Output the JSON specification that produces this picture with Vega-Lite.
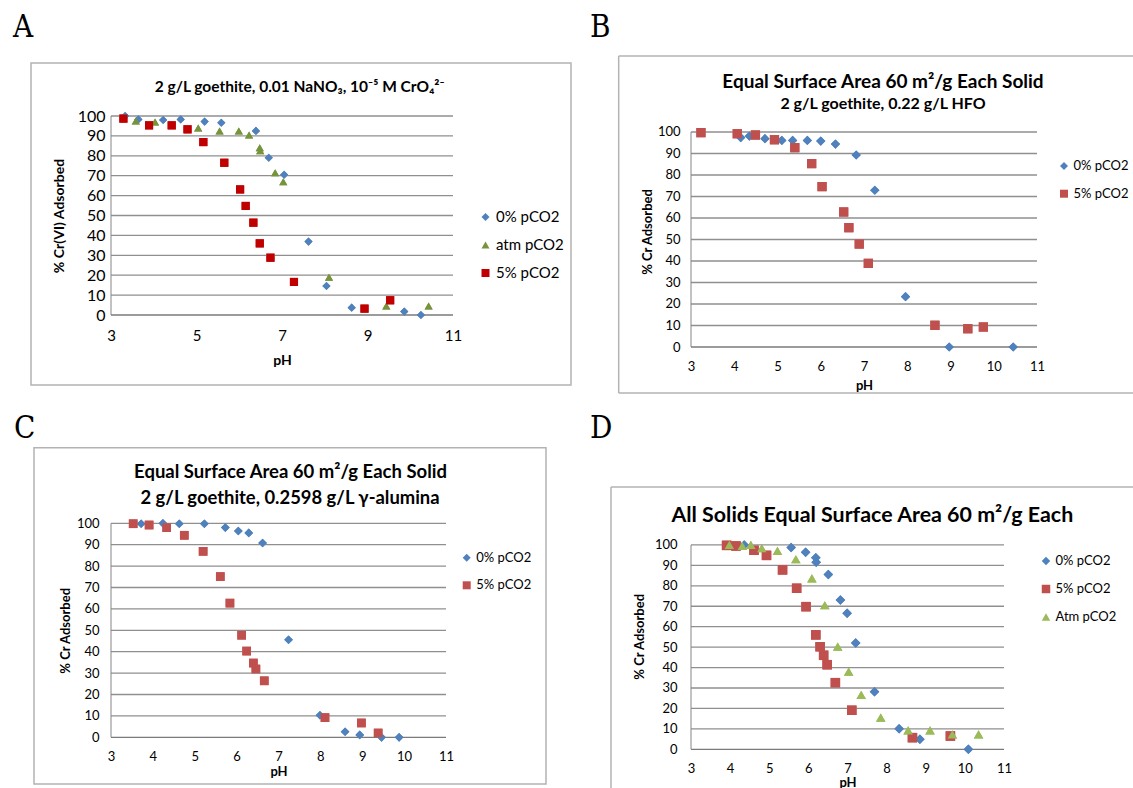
{
  "$schema": "https://vega.github.io/schema/vega-lite/v6.json",
  "background": "white",
  "padding": {"left": 12, "top": 11, "right": 0, "bottom": 0},
  "config": {
    "view": {"stroke": null},
    "axis": {"labelFont": "Lato", "titleFont": "Lato", "labelColor": "#000000", "titleColor": "#000000", "titleFontWeight": "bold"},
    "legend": {"labelFont": "Lato", "labelColor": "#000000", "symbolStrokeWidth": 0, "labelOffset": 3}
  },
  "datasets": {
    "gridlevels": [
      {"level": 10}, {"level": 20}, {"level": 30}, {"level": 40}, {"level": 50},
      {"level": 60}, {"level": 70}, {"level": 80}, {"level": 90}, {"level": 100}
    ],
    "a": [
      {"pH": 3.33, "pct": 100, "series": "0% pCO2"},
      {"pH": 3.64, "pct": 98.3, "series": "0% pCO2"},
      {"pH": 4.22, "pct": 98, "series": "0% pCO2"},
      {"pH": 4.63, "pct": 98.3, "series": "0% pCO2"},
      {"pH": 5.19, "pct": 97.2, "series": "0% pCO2"},
      {"pH": 5.58, "pct": 96.6, "series": "0% pCO2"},
      {"pH": 6.39, "pct": 92.5, "series": "0% pCO2"},
      {"pH": 6.69, "pct": 79, "series": "0% pCO2"},
      {"pH": 7.05, "pct": 70.5, "series": "0% pCO2"},
      {"pH": 7.62, "pct": 36.9, "series": "0% pCO2"},
      {"pH": 8.04, "pct": 14.6, "series": "0% pCO2"},
      {"pH": 8.63, "pct": 3.7, "series": "0% pCO2"},
      {"pH": 9.86, "pct": 1.7, "series": "0% pCO2"},
      {"pH": 10.25, "pct": 0, "series": "0% pCO2"},
      {"pH": 3.58, "pct": 97.5, "series": "atm pCO2"},
      {"pH": 4.03, "pct": 97, "series": "atm pCO2"},
      {"pH": 5.04, "pct": 94, "series": "atm pCO2"},
      {"pH": 5.54, "pct": 92.5, "series": "atm pCO2"},
      {"pH": 5.99, "pct": 92.5, "series": "atm pCO2"},
      {"pH": 6.23, "pct": 90.5, "series": "atm pCO2"},
      {"pH": 6.48, "pct": 84, "series": "atm pCO2"},
      {"pH": 6.49, "pct": 82.5, "series": "atm pCO2"},
      {"pH": 6.84, "pct": 71.5, "series": "atm pCO2"},
      {"pH": 7.03, "pct": 67, "series": "atm pCO2"},
      {"pH": 8.1, "pct": 19, "series": "atm pCO2"},
      {"pH": 9.44, "pct": 4.5, "series": "atm pCO2"},
      {"pH": 10.43, "pct": 4.5, "series": "atm pCO2"},
      {"pH": 3.29, "pct": 98.7, "series": "5% pCO2"},
      {"pH": 3.89, "pct": 95.3, "series": "5% pCO2"},
      {"pH": 4.42, "pct": 95.3, "series": "5% pCO2"},
      {"pH": 4.79, "pct": 93.3, "series": "5% pCO2"},
      {"pH": 5.16, "pct": 86.9, "series": "5% pCO2"},
      {"pH": 5.65, "pct": 76.5, "series": "5% pCO2"},
      {"pH": 6.02, "pct": 63.1, "series": "5% pCO2"},
      {"pH": 6.15, "pct": 54.8, "series": "5% pCO2"},
      {"pH": 6.33, "pct": 46.4, "series": "5% pCO2"},
      {"pH": 6.48, "pct": 36, "series": "5% pCO2"},
      {"pH": 6.73, "pct": 28.8, "series": "5% pCO2"},
      {"pH": 7.28, "pct": 16.6, "series": "5% pCO2"},
      {"pH": 8.93, "pct": 3.2, "series": "5% pCO2"},
      {"pH": 9.53, "pct": 7.4, "series": "5% pCO2"}
    ],
    "b": [
      {"pH": 4.15, "pct": 97.4, "series": "0% pCO2"},
      {"pH": 4.35, "pct": 98.1, "series": "0% pCO2"},
      {"pH": 4.71, "pct": 96.9, "series": "0% pCO2"},
      {"pH": 5.1, "pct": 96.1, "series": "0% pCO2"},
      {"pH": 5.35, "pct": 96.1, "series": "0% pCO2"},
      {"pH": 5.69, "pct": 96.1, "series": "0% pCO2"},
      {"pH": 6.0, "pct": 95.8, "series": "0% pCO2"},
      {"pH": 6.34, "pct": 94.4, "series": "0% pCO2"},
      {"pH": 6.82, "pct": 89.3, "series": "0% pCO2"},
      {"pH": 7.25, "pct": 72.9, "series": "0% pCO2"},
      {"pH": 7.96, "pct": 23.4, "series": "0% pCO2"},
      {"pH": 8.97, "pct": 0, "series": "0% pCO2"},
      {"pH": 10.45, "pct": 0, "series": "0% pCO2"},
      {"pH": 3.23, "pct": 99.7, "series": "5% pCO2"},
      {"pH": 4.07, "pct": 99.2, "series": "5% pCO2"},
      {"pH": 4.49, "pct": 98.6, "series": "5% pCO2"},
      {"pH": 4.93, "pct": 96.4, "series": "5% pCO2"},
      {"pH": 5.4, "pct": 92.7, "series": "5% pCO2"},
      {"pH": 5.79, "pct": 85.3, "series": "5% pCO2"},
      {"pH": 6.03, "pct": 74.6, "series": "5% pCO2"},
      {"pH": 6.53, "pct": 62.8, "series": "5% pCO2"},
      {"pH": 6.65, "pct": 55.5, "series": "5% pCO2"},
      {"pH": 6.89, "pct": 47.9, "series": "5% pCO2"},
      {"pH": 7.1, "pct": 38.9, "series": "5% pCO2"},
      {"pH": 8.64, "pct": 10.1, "series": "5% pCO2"},
      {"pH": 9.4, "pct": 8.5, "series": "5% pCO2"},
      {"pH": 9.76, "pct": 9.3, "series": "5% pCO2"}
    ],
    "c": [
      {"pH": 3.72, "pct": 99.8, "series": "0% pCO2"},
      {"pH": 4.24, "pct": 100, "series": "0% pCO2"},
      {"pH": 4.63, "pct": 99.8, "series": "0% pCO2"},
      {"pH": 5.23, "pct": 99.8, "series": "0% pCO2"},
      {"pH": 5.73, "pct": 98, "series": "0% pCO2"},
      {"pH": 6.04, "pct": 96.4, "series": "0% pCO2"},
      {"pH": 6.29, "pct": 95.5, "series": "0% pCO2"},
      {"pH": 6.62, "pct": 90.8, "series": "0% pCO2"},
      {"pH": 7.24, "pct": 45.6, "series": "0% pCO2"},
      {"pH": 7.99, "pct": 10.3, "series": "0% pCO2"},
      {"pH": 8.59, "pct": 2.6, "series": "0% pCO2"},
      {"pH": 8.94, "pct": 1.1, "series": "0% pCO2"},
      {"pH": 9.46, "pct": 0, "series": "0% pCO2"},
      {"pH": 9.88, "pct": 0, "series": "0% pCO2"},
      {"pH": 3.53, "pct": 99.8, "series": "5% pCO2"},
      {"pH": 3.91, "pct": 99.2, "series": "5% pCO2"},
      {"pH": 4.33, "pct": 98, "series": "5% pCO2"},
      {"pH": 4.75, "pct": 94.4, "series": "5% pCO2"},
      {"pH": 5.2, "pct": 86.9, "series": "5% pCO2"},
      {"pH": 5.61, "pct": 75.1, "series": "5% pCO2"},
      {"pH": 5.84, "pct": 62.7, "series": "5% pCO2"},
      {"pH": 6.12, "pct": 47.7, "series": "5% pCO2"},
      {"pH": 6.24, "pct": 40.3, "series": "5% pCO2"},
      {"pH": 6.4, "pct": 34.7, "series": "5% pCO2"},
      {"pH": 6.46, "pct": 31.9, "series": "5% pCO2"},
      {"pH": 6.66, "pct": 26.4, "series": "5% pCO2"},
      {"pH": 8.11, "pct": 9.2, "series": "5% pCO2"},
      {"pH": 8.98, "pct": 6.7, "series": "5% pCO2"},
      {"pH": 9.38, "pct": 2, "series": "5% pCO2"}
    ],
    "d": [
      {"pH": 4.36, "pct": 100, "series": "0% pCO2"},
      {"pH": 5.56, "pct": 98.7, "series": "0% pCO2"},
      {"pH": 5.93, "pct": 96.4, "series": "0% pCO2"},
      {"pH": 6.19, "pct": 93.8, "series": "0% pCO2"},
      {"pH": 6.2, "pct": 91.5, "series": "0% pCO2"},
      {"pH": 6.51, "pct": 85.6, "series": "0% pCO2"},
      {"pH": 6.82, "pct": 73.1, "series": "0% pCO2"},
      {"pH": 6.99, "pct": 66.6, "series": "0% pCO2"},
      {"pH": 7.21, "pct": 52, "series": "0% pCO2"},
      {"pH": 7.69, "pct": 28.2, "series": "0% pCO2"},
      {"pH": 8.32, "pct": 10.1, "series": "0% pCO2"},
      {"pH": 8.85, "pct": 4.9, "series": "0% pCO2"},
      {"pH": 10.09, "pct": 0, "series": "0% pCO2"},
      {"pH": 3.91, "pct": 99.8, "series": "5% pCO2"},
      {"pH": 4.15, "pct": 99.5, "series": "5% pCO2"},
      {"pH": 4.61, "pct": 97.4, "series": "5% pCO2"},
      {"pH": 4.93, "pct": 94.9, "series": "5% pCO2"},
      {"pH": 5.34, "pct": 87.8, "series": "5% pCO2"},
      {"pH": 5.7, "pct": 78.8, "series": "5% pCO2"},
      {"pH": 5.94, "pct": 69.8, "series": "5% pCO2"},
      {"pH": 6.19, "pct": 56, "series": "5% pCO2"},
      {"pH": 6.3, "pct": 50.2, "series": "5% pCO2"},
      {"pH": 6.39, "pct": 46, "series": "5% pCO2"},
      {"pH": 6.48, "pct": 41.4, "series": "5% pCO2"},
      {"pH": 6.69, "pct": 32.6, "series": "5% pCO2"},
      {"pH": 7.11, "pct": 19.1, "series": "5% pCO2"},
      {"pH": 8.66, "pct": 5.7, "series": "5% pCO2"},
      {"pH": 9.63, "pct": 6.5, "series": "5% pCO2"},
      {"pH": 3.98, "pct": 100, "series": "Atm pCO2"},
      {"pH": 4.31, "pct": 99.5, "series": "Atm pCO2"},
      {"pH": 4.53, "pct": 100, "series": "Atm pCO2"},
      {"pH": 4.81, "pct": 98.4, "series": "Atm pCO2"},
      {"pH": 5.21, "pct": 97.1, "series": "Atm pCO2"},
      {"pH": 5.68, "pct": 93, "series": "Atm pCO2"},
      {"pH": 6.09, "pct": 83.7, "series": "Atm pCO2"},
      {"pH": 6.42, "pct": 70.5, "series": "Atm pCO2"},
      {"pH": 6.75, "pct": 50.2, "series": "Atm pCO2"},
      {"pH": 7.03, "pct": 38, "series": "Atm pCO2"},
      {"pH": 7.35, "pct": 26.6, "series": "Atm pCO2"},
      {"pH": 7.85, "pct": 15.5, "series": "Atm pCO2"},
      {"pH": 8.55, "pct": 9.3, "series": "Atm pCO2"},
      {"pH": 9.11, "pct": 9.3, "series": "Atm pCO2"},
      {"pH": 9.68, "pct": 7.3, "series": "Atm pCO2"},
      {"pH": 10.35, "pct": 7.3, "series": "Atm pCO2"}
    ]
  },
  "columns": 2,
  "spacing": {"row": 18.3, "column": 18},
  "align": "each",
  "bounds": "full",
  "resolve": {
    "scale": {"x": "independent", "y": "independent", "color": "independent", "shape": "independent"},
    "axis": {"x": "independent", "y": "independent"},
    "legend": {"color": "independent", "shape": "independent"}
  },
  "concat": [
    {
      "width": 342,
      "height": 199,
      "resolve": {"axis": {"x": "independent", "y": "independent"}},
      "layer": [
        {
          "data": {"name": "a"},
          "mark": {"type": "point", "filled": true, "opacity": 1, "size": 66},
          "encoding": {
            "x": {"field": "pH", "type": "quantitative", "scale": {"domain": [3, 11], "nice": false, "zero": false},
              "axis": {"orient": "bottom", "values": [3, 5, 7, 9, 11], "title": "pH", "grid": false, "domain": false, "ticks": false, "tickSize": 0, "labelFlush": false, "labelOverlap": false, "labelFontSize": 15, "labelPadding": 13.5, "titleFontSize": 14, "titlePadding": 9.5}},
            "y": {"field": "pct", "type": "quantitative", "scale": {"domain": [0, 100], "nice": false, "zero": false},
              "axis": {"orient": "left", "values": [0, 10, 20, 30, 40, 50, 60, 70, 80, 90, 100], "title": "% Cr(VI) Adsorbed", "grid": false, "domain": false, "ticks": false, "tickSize": 0, "labelOverlap": false, "labelFontSize": 16, "labelPadding": 6, "titleFontSize": 14, "titlePadding": 11}},
            "color": {"field": "series", "type": "nominal",
              "scale": {"domain": ["0% pCO2", "atm pCO2", "5% pCO2"], "range": ["#4F81BD", "#77933C", "#C00000"]},
              "legend": {"orient": "none", "legendX": 367, "legendY": 93.5, "direction": "vertical", "title": null, "labelFontSize": 15, "rowPadding": 12, "symbolSize": 64}},
            "shape": {"field": "series", "type": "nominal",
              "scale": {"domain": ["0% pCO2", "atm pCO2", "5% pCO2"], "range": ["diamond", "triangle-up", "square"]},
              "legend": {"orient": "none", "legendX": 367, "legendY": 93.5, "direction": "vertical", "title": null, "labelFontSize": 15, "rowPadding": 12, "symbolSize": 64}}
          }
        },
        {
          "data": {"name": "gridlevels"},
          "mark": {"type": "rule", "color": "#8f8f8f", "strokeWidth": 1.3},
          "encoding": {
            "x": {"datum": 3, "type": "quantitative", "axis": null},
            "x2": {"datum": 11},
            "y": {"field": "level", "type": "quantitative", "axis": null}
          }
        },
        {
          "data": {"values": [{}]},
          "mark": {"type": "rule", "color": "#7a7a7a", "strokeWidth": 1.3},
          "encoding": {
            "x": {"datum": 3, "type": "quantitative", "axis": null},
            "x2": {"datum": 11},
            "y": {"datum": 0, "type": "quantitative", "axis": null}
          }
        },
        {
          "data": {"values": [{}]},
          "mark": {"type": "rule", "color": "#868686", "strokeWidth": 1},
          "encoding": {
            "x": {"datum": 3, "type": "quantitative", "axis": null},
            "y": {"datum": 0, "type": "quantitative", "axis": null},
            "y2": {"datum": 100}
          }
        },
        {
          "data": {"values": [{}]},
          "mark": {"type": "rect", "filled": false, "stroke": "#b3b3b3", "strokeWidth": 1.5},
          "encoding": {
            "x": {"datum": 1.1287, "type": "quantitative", "axis": null},
            "x2": {"datum": 13.76},
            "y": {"datum": 126.63, "type": "quantitative", "axis": null},
            "y2": {"datum": -35.18}
          }
        },
        {
          "data": {"values": [{}]},
          "mark": {"type": "text", "text": "A", "font": "DejaVu Serif Condensed, Liberation Serif, serif", "fontSize": 31, "align": "left", "baseline": "alphabetic", "color": "#000000"},
          "encoding": {
            "x": {"datum": 0.7076, "type": "quantitative", "axis": null},
            "y": {"datum": 139.7, "type": "quantitative", "axis": null}
          }
        },
        {
          "data": {"values": [{}]},
          "mark": {"type": "text", "text": "2 g/L goethite, 0.01 NaNO₃, 10⁻⁵ M CrO₄²⁻", "font": "Lato, DejaVu Sans", "fontWeight": "bold", "fontSize": 15.5, "align": "center", "baseline": "alphabetic", "color": "#000000"},
          "encoding": {
            "x": {"datum": 7.414, "type": "quantitative", "axis": null},
            "y": {"datum": 111.91, "type": "quantitative", "axis": null}
          }
        },
        {
          "data": {"name": "a"},
          "mark": {"type": "point", "filled": true, "opacity": 1, "size": 66},
          "encoding": {
            "x": {"field": "pH", "type": "quantitative", "axis": null},
            "y": {"field": "pct", "type": "quantitative", "axis": null},
            "color": {"field": "series", "type": "nominal", "legend": null},
            "shape": {"field": "series", "type": "nominal", "legend": null}
          }
        }
      ]
    },
    {
      "width": 346,
      "height": 231,
      "resolve": {"axis": {"x": "independent", "y": "independent"}},
      "layer": [
        {
          "data": {"name": "b"},
          "mark": {"type": "point", "filled": true, "opacity": 1, "size": 85},
          "encoding": {
            "x": {"field": "pH", "type": "quantitative", "scale": {"domain": [3, 11], "nice": false, "zero": false},
              "axis": {"orient": "bottom", "values": [3, 4, 5, 6, 7, 8, 9, 10, 11], "title": "pH", "grid": false, "domain": false, "ticks": false, "tickSize": 0, "labelFlush": false, "labelOverlap": false, "labelFontSize": 13, "labelPadding": 13, "titleFontSize": 13, "titlePadding": 6}},
            "y": {"field": "pct", "type": "quantitative", "scale": {"domain": [0, 107.44], "nice": false, "zero": false},
              "axis": {"orient": "left", "values": [0, 10, 20, 30, 40, 50, 60, 70, 80, 90, 100], "title": "% Cr Adsorbed", "grid": false, "domain": false, "ticks": false, "tickSize": 0, "labelOverlap": false, "labelFontSize": 13, "labelPadding": 11, "titleFontSize": 13, "titlePadding": 3}},
            "color": {"field": "series", "type": "nominal",
              "scale": {"domain": ["0% pCO2", "5% pCO2"], "range": ["#4F81BD", "#C0504D"]},
              "legend": {"orient": "none", "legendX": 366.5, "legendY": 43.5, "direction": "vertical", "title": null, "labelFontSize": 13, "rowPadding": 13.7, "symbolSize": 64}},
            "shape": {"field": "series", "type": "nominal",
              "scale": {"domain": ["0% pCO2", "5% pCO2"], "range": ["diamond", "square"]},
              "legend": {"orient": "none", "legendX": 366.5, "legendY": 43.5, "direction": "vertical", "title": null, "labelFontSize": 13, "rowPadding": 13.7, "symbolSize": 64}}
          }
        },
        {
          "data": {"name": "gridlevels"},
          "mark": {"type": "rule", "color": "#8f8f8f", "strokeWidth": 1.3},
          "encoding": {
            "x": {"datum": 3, "type": "quantitative", "axis": null},
            "x2": {"datum": 11},
            "y": {"field": "level", "type": "quantitative", "axis": null}
          }
        },
        {
          "data": {"values": [{}]},
          "mark": {"type": "rule", "color": "#7a7a7a", "strokeWidth": 1.3},
          "encoding": {
            "x": {"datum": 3, "type": "quantitative", "axis": null},
            "x2": {"datum": 11},
            "y": {"datum": 0, "type": "quantitative", "axis": null}
          }
        },
        {
          "data": {"values": [{}]},
          "mark": {"type": "rule", "color": "#868686", "strokeWidth": 1},
          "encoding": {
            "x": {"datum": 3, "type": "quantitative", "axis": null},
            "y": {"datum": 0, "type": "quantitative", "axis": null},
            "y2": {"datum": 100}
          }
        },
        {
          "data": {"values": [{}]},
          "mark": {"type": "rule", "color": "#b3b3b3", "strokeWidth": 1.5},
          "encoding": {
            "x": {"datum": 1.328, "type": "quantitative", "axis": null},
            "x2": {"datum": 13.22},
            "y": {"datum": 135.35, "type": "quantitative", "axis": null}
          }
        },
        {
          "data": {"values": [{}]},
          "mark": {"type": "rule", "color": "#b3b3b3", "strokeWidth": 1.5},
          "encoding": {
            "x": {"datum": 1.328, "type": "quantitative", "axis": null},
            "y": {"datum": 135.35, "type": "quantitative", "axis": null},
            "y2": {"datum": -21.4}
          }
        },
        {
          "data": {"values": [{}]},
          "mark": {"type": "rule", "color": "#b3b3b3", "strokeWidth": 1.5},
          "encoding": {
            "x": {"datum": 1.328, "type": "quantitative", "axis": null},
            "x2": {"datum": 13.22},
            "y": {"datum": -21.4, "type": "quantitative", "axis": null}
          }
        },
        {
          "data": {"values": [{}]},
          "mark": {"type": "text", "text": "B", "font": "DejaVu Serif Condensed, Liberation Serif, serif", "fontSize": 31, "align": "left", "baseline": "alphabetic", "color": "#000000"},
          "encoding": {
            "x": {"datum": 0.666, "type": "quantitative", "axis": null},
            "y": {"datum": 144.18, "type": "quantitative", "axis": null}
          }
        },
        {
          "data": {"values": [{}]},
          "mark": {"type": "text", "text": "Equal Surface Area 60 m²/g Each Solid", "font": "Lato, DejaVu Sans", "fontWeight": "bold", "fontSize": 19, "align": "center", "baseline": "alphabetic", "color": "#000000"},
          "encoding": {
            "x": {"datum": 7.439, "type": "quantitative", "axis": null},
            "y": {"datum": 120.6, "type": "quantitative", "axis": null}
          }
        },
        {
          "data": {"values": [{}]},
          "mark": {"type": "text", "text": "2 g/L goethite, 0.22 g/L HFO", "font": "Lato, DejaVu Sans", "fontWeight": "bold", "fontSize": 16, "align": "center", "baseline": "alphabetic", "color": "#000000"},
          "encoding": {
            "x": {"datum": 7.439, "type": "quantitative", "axis": null},
            "y": {"datum": 110.56, "type": "quantitative", "axis": null}
          }
        },
        {
          "data": {"name": "b"},
          "mark": {"type": "point", "filled": true, "opacity": 1, "size": 85},
          "encoding": {
            "x": {"field": "pH", "type": "quantitative", "axis": null},
            "y": {"field": "pct", "type": "quantitative", "axis": null},
            "color": {"field": "series", "type": "nominal", "legend": null},
            "shape": {"field": "series", "type": "nominal", "legend": null}
          }
        }
      ]
    },
    {
      "width": 335,
      "height": 214,
      "resolve": {"axis": {"x": "independent", "y": "independent"}},
      "layer": [
        {
          "data": {"name": "c"},
          "mark": {"type": "point", "filled": true, "opacity": 1, "size": 75},
          "encoding": {
            "x": {"field": "pH", "type": "quantitative", "scale": {"domain": [3, 11], "nice": false, "zero": false},
              "axis": {"orient": "bottom", "values": [3, 4, 5, 6, 7, 8, 9, 10, 11], "title": "pH", "grid": false, "domain": false, "ticks": false, "tickSize": 0, "labelFlush": false, "labelOverlap": false, "labelFontSize": 13, "labelPadding": 13, "titleFontSize": 13, "titlePadding": 2}},
            "y": {"field": "pct", "type": "quantitative", "scale": {"domain": [0, 100], "nice": false, "zero": false},
              "axis": {"orient": "left", "values": [0, 10, 20, 30, 40, 50, 60, 70, 80, 90, 100], "title": "% Cr Adsorbed", "grid": false, "domain": false, "ticks": false, "tickSize": 0, "labelOverlap": false, "labelFontSize": 13, "labelPadding": 12, "titleFontSize": 13, "titlePadding": 3.4}},
            "color": {"field": "series", "type": "nominal",
              "scale": {"domain": ["0% pCO2", "5% pCO2"], "range": ["#4F81BD", "#C0504D"]},
              "legend": {"orient": "none", "legendX": 349.2, "legendY": 27.9, "direction": "vertical", "title": null, "labelFontSize": 13, "rowPadding": 13.6, "symbolSize": 64}},
            "shape": {"field": "series", "type": "nominal",
              "scale": {"domain": ["0% pCO2", "5% pCO2"], "range": ["diamond", "square"]},
              "legend": {"orient": "none", "legendX": 349.2, "legendY": 27.9, "direction": "vertical", "title": null, "labelFontSize": 13, "rowPadding": 13.6, "symbolSize": 64}}
          }
        },
        {
          "data": {"name": "gridlevels"},
          "mark": {"type": "rule", "color": "#8f8f8f", "strokeWidth": 1.3},
          "encoding": {
            "x": {"datum": 3, "type": "quantitative", "axis": null},
            "x2": {"datum": 11},
            "y": {"field": "level", "type": "quantitative", "axis": null}
          }
        },
        {
          "data": {"values": [{}]},
          "mark": {"type": "rule", "color": "#7a7a7a", "strokeWidth": 1.3},
          "encoding": {
            "x": {"datum": 3, "type": "quantitative", "axis": null},
            "x2": {"datum": 11},
            "y": {"datum": 0, "type": "quantitative", "axis": null}
          }
        },
        {
          "data": {"values": [{}]},
          "mark": {"type": "rule", "color": "#868686", "strokeWidth": 1},
          "encoding": {
            "x": {"datum": 3, "type": "quantitative", "axis": null},
            "y": {"datum": 0, "type": "quantitative", "axis": null},
            "y2": {"datum": 100}
          }
        },
        {
          "data": {"values": [{}]},
          "mark": {"type": "rect", "filled": false, "stroke": "#b3b3b3", "strokeWidth": 1.5},
          "encoding": {
            "x": {"datum": 1.161, "type": "quantitative", "axis": null},
            "x2": {"datum": 13.388},
            "y": {"datum": 135.33, "type": "quantitative", "axis": null},
            "y2": {"datum": -21.82}
          }
        },
        {
          "data": {"values": [{}]},
          "mark": {"type": "text", "text": "C", "font": "DejaVu Serif Condensed, Liberation Serif, serif", "fontSize": 31, "align": "left", "baseline": "alphabetic", "color": "#000000"},
          "encoding": {
            "x": {"datum": 0.6836, "type": "quantitative", "axis": null},
            "y": {"datum": 140.09, "type": "quantitative", "axis": null}
          }
        },
        {
          "data": {"values": [{}]},
          "mark": {"type": "text", "text": "Equal Surface Area 60 m²/g Each Solid", "font": "Lato, DejaVu Sans", "fontWeight": "bold", "fontSize": 18.5, "align": "center", "baseline": "alphabetic", "color": "#000000"},
          "encoding": {
            "x": {"datum": 7.287, "type": "quantitative", "axis": null},
            "y": {"datum": 121.03, "type": "quantitative", "axis": null}
          }
        },
        {
          "data": {"values": [{}]},
          "mark": {"type": "text", "text": "2 g/L goethite, 0.2598 g/L  γ-alumina", "font": "Lato, DejaVu Sans", "fontWeight": "bold", "fontSize": 18.4, "align": "center", "baseline": "alphabetic", "color": "#000000"},
          "encoding": {
            "x": {"datum": 7.275, "type": "quantitative", "axis": null},
            "y": {"datum": 108.88, "type": "quantitative", "axis": null}
          }
        },
        {
          "data": {"name": "c"},
          "mark": {"type": "point", "filled": true, "opacity": 1, "size": 75},
          "encoding": {
            "x": {"field": "pH", "type": "quantitative", "axis": null},
            "y": {"field": "pct", "type": "quantitative", "axis": null},
            "color": {"field": "series", "type": "nominal", "legend": null},
            "shape": {"field": "series", "type": "nominal", "legend": null}
          }
        }
      ]
    },
    {
      "width": 313,
      "height": 226,
      "resolve": {"axis": {"x": "independent", "y": "independent"}},
      "layer": [
        {
          "data": {"name": "d"},
          "mark": {"type": "point", "filled": true, "opacity": 1, "size": 90},
          "encoding": {
            "x": {"field": "pH", "type": "quantitative", "scale": {"domain": [3, 11], "nice": false, "zero": false},
              "axis": {"orient": "bottom", "values": [3, 4, 5, 6, 7, 8, 9, 10, 11], "title": "pH", "grid": false, "domain": false, "ticks": false, "tickSize": 0, "labelFlush": false, "labelOverlap": false, "labelFontSize": 13, "labelPadding": 13, "titleFontSize": 13, "titlePadding": 1}},
            "y": {"field": "pct", "type": "quantitative", "scale": {"domain": [0, 110.6], "nice": false, "zero": false},
              "axis": {"orient": "left", "values": [0, 10, 20, 30, 40, 50, 60, 70, 80, 90, 100], "title": "% Cr Adsorbed", "grid": false, "domain": false, "ticks": false, "tickSize": 0, "labelOverlap": false, "labelFontSize": 13, "labelPadding": 14, "titleFontSize": 13, "titlePadding": 8}},
            "color": {"field": "series", "type": "nominal",
              "scale": {"domain": ["0% pCO2", "5% pCO2", "Atm pCO2"], "range": ["#4F81BD", "#C0504D", "#9BBB59"]},
              "legend": {"orient": "none", "legendX": 348.5, "legendY": 31.2, "direction": "vertical", "title": null, "labelFontSize": 13, "rowPadding": 14, "symbolSize": 72}},
            "shape": {"field": "series", "type": "nominal",
              "scale": {"domain": ["0% pCO2", "5% pCO2", "Atm pCO2"], "range": ["diamond", "square", "triangle-up"]},
              "legend": {"orient": "none", "legendX": 348.5, "legendY": 31.2, "direction": "vertical", "title": null, "labelFontSize": 13, "rowPadding": 14, "symbolSize": 72}}
          }
        },
        {
          "data": {"name": "gridlevels"},
          "mark": {"type": "rule", "color": "#8f8f8f", "strokeWidth": 1.3},
          "encoding": {
            "x": {"datum": 3, "type": "quantitative", "axis": null},
            "x2": {"datum": 11},
            "y": {"field": "level", "type": "quantitative", "axis": null}
          }
        },
        {
          "data": {"values": [{}]},
          "mark": {"type": "rule", "color": "#7a7a7a", "strokeWidth": 1.3},
          "encoding": {
            "x": {"datum": 3, "type": "quantitative", "axis": null},
            "x2": {"datum": 11},
            "y": {"datum": 0, "type": "quantitative", "axis": null}
          }
        },
        {
          "data": {"values": [{}]},
          "mark": {"type": "rule", "color": "#868686", "strokeWidth": 1},
          "encoding": {
            "x": {"datum": 3, "type": "quantitative", "axis": null},
            "y": {"datum": 0, "type": "quantitative", "axis": null},
            "y2": {"datum": 100}
          }
        },
        {
          "data": {"values": [{}]},
          "mark": {"type": "rule", "color": "#b3b3b3", "strokeWidth": 1.5},
          "encoding": {
            "x": {"datum": 0.955, "type": "quantitative", "axis": null},
            "x2": {"datum": 14.297},
            "y": {"datum": 128.36, "type": "quantitative", "axis": null}
          }
        },
        {
          "data": {"values": [{}]},
          "mark": {"type": "rule", "color": "#b3b3b3", "strokeWidth": 1.5},
          "encoding": {
            "x": {"datum": 0.955, "type": "quantitative", "axis": null},
            "y": {"datum": 128.36, "type": "quantitative", "axis": null},
            "y2": {"datum": -18.94}
          }
        },
        {
          "data": {"values": [{}]},
          "mark": {"type": "text", "text": "D", "font": "DejaVu Serif Condensed, Liberation Serif, serif", "fontSize": 31, "align": "left", "baseline": "alphabetic", "color": "#000000"},
          "encoding": {
            "x": {"datum": 0.419, "type": "quantitative", "axis": null},
            "y": {"datum": 152.34, "type": "quantitative", "axis": null}
          }
        },
        {
          "data": {"values": [{}]},
          "mark": {"type": "text", "text": "All Solids Equal Surface Area 60 m²/g Each", "font": "Lato, DejaVu Sans", "fontWeight": "bold", "fontSize": 21.4, "align": "center", "baseline": "alphabetic", "color": "#000000"},
          "encoding": {
            "x": {"datum": 7.634, "type": "quantitative", "axis": null},
            "y": {"datum": 111.38, "type": "quantitative", "axis": null}
          }
        },
        {
          "data": {"name": "d"},
          "mark": {"type": "point", "filled": true, "opacity": 1, "size": 90},
          "encoding": {
            "x": {"field": "pH", "type": "quantitative", "axis": null},
            "y": {"field": "pct", "type": "quantitative", "axis": null},
            "color": {"field": "series", "type": "nominal", "legend": null},
            "shape": {"field": "series", "type": "nominal", "legend": null}
          }
        }
      ]
    }
  ]
}
